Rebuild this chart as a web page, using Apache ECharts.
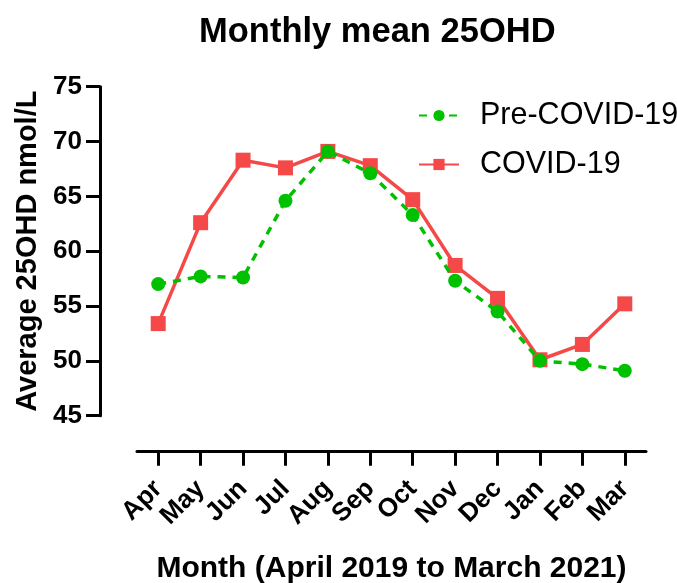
<!DOCTYPE html>
<html>
<head>
<meta charset="utf-8">
<script src="https://cdn.jsdelivr.net/npm/echarts@6/dist/echarts.min.js"></script>
<style>
  html, body { margin: 0; padding: 0; background: #fff; }
  #chart { width: 677px; height: 583px; }
</style>
</head>
<body>
<div id="chart"></div>
<script>
const months = ['Apr', 'May', 'Jun', 'Jul', 'Aug', 'Sep', 'Oct', 'Nov', 'Dec', 'Jan', 'Feb', 'Mar'];
const preCovid = [57.0, 57.7, 57.6, 64.6, 69.1, 67.1, 63.3, 57.3, 54.5, 50.0, 49.7, 49.1];
const covid = [53.4, 62.6, 68.3, 67.6, 69.1, 67.8, 64.7, 58.7, 55.7, 50.1, 51.5, 55.2];
const yTicks = [45, 50, 55, 60, 65, 70, 75];

const font = 'Arial, "Liberation Sans", sans-serif';
const green = '#00c000';
const red = '#f54848';

let myChart = echarts.init(document.getElementById('chart'));
myChart.setOption({
    animation: false,
    title: {
        text: 'Monthly mean 25OHD',
        left: 194,
        top: 10,
        textStyle: { fontFamily: font, fontSize: 34.5, fontWeight: 'bold', color: '#000' }
    },
    legend: {
        orient: 'vertical',
        left: 413,
        top: 95,
        itemWidth: 40,
        itemHeight: 14,
        itemGap: 18,
        textStyle: { fontFamily: font, fontSize: 30.5, color: '#000', lineHeight: 31, padding: [0, 0, 0, 16] },
        data: ['Pre-COVID-19', 'COVID-19']
    },
    grid: { left: 137, right: 31, top: 86.7, bottom: 167.3, outerBoundsMode: 'none' },
    xAxis: {
        type: 'category',
        data: months,
        offset: 36,
        name: 'Month (April 2019 to March 2021)',
        nameLocation: 'middle',
        nameGap: 102,
        nameTextStyle: { fontFamily: font, fontSize: 30, fontWeight: 'bold', color: '#000' },
        axisLine: { lineStyle: { color: '#000', width: 3 } },
        axisTick: { show: true, interval: 0, alignWithLabel: true, length: 14, lineStyle: { color: '#000', width: 3 } },
        axisLabel: { interval: 0, rotate: 45, margin: 33, fontFamily: font, fontSize: 26, fontWeight: 'bold', color: '#000' }
    },
    yAxis: {
        type: 'value',
        min: yTicks[0],
        max: yTicks[yTicks.length - 1],
        interval: 5,
        offset: 37,
        name: 'Average 25OHD nmol/L',
        nameLocation: 'middle',
        nameGap: 58,
        nameTextStyle: { fontFamily: font, fontSize: 29, fontWeight: 'bold', color: '#000' },
        splitLine: { show: false },
        axisLine: { show: true, lineStyle: { color: '#000', width: 3 } },
        axisTick: { show: true, length: 14, lineStyle: { color: '#000', width: 3 } },
        axisLabel: { margin: 18, fontFamily: font, fontSize: 26, fontWeight: 'bold', color: '#000' }
    },
    series: [
        {
            name: 'Pre-COVID-19',
            type: 'line',
            data: preCovid,
            symbol: 'circle',
            symbolSize: 14,
            itemStyle: { color: green },
            lineStyle: { color: green, width: 3.5, type: [8, 7] },
            z: 3
        },
        {
            name: 'COVID-19',
            type: 'line',
            data: covid,
            symbol: 'rect',
            symbolSize: 15,
            itemStyle: { color: red },
            lineStyle: { color: red, width: 3.5 },
            z: 2
        }
    ]
});
</script>
</body>
</html>
